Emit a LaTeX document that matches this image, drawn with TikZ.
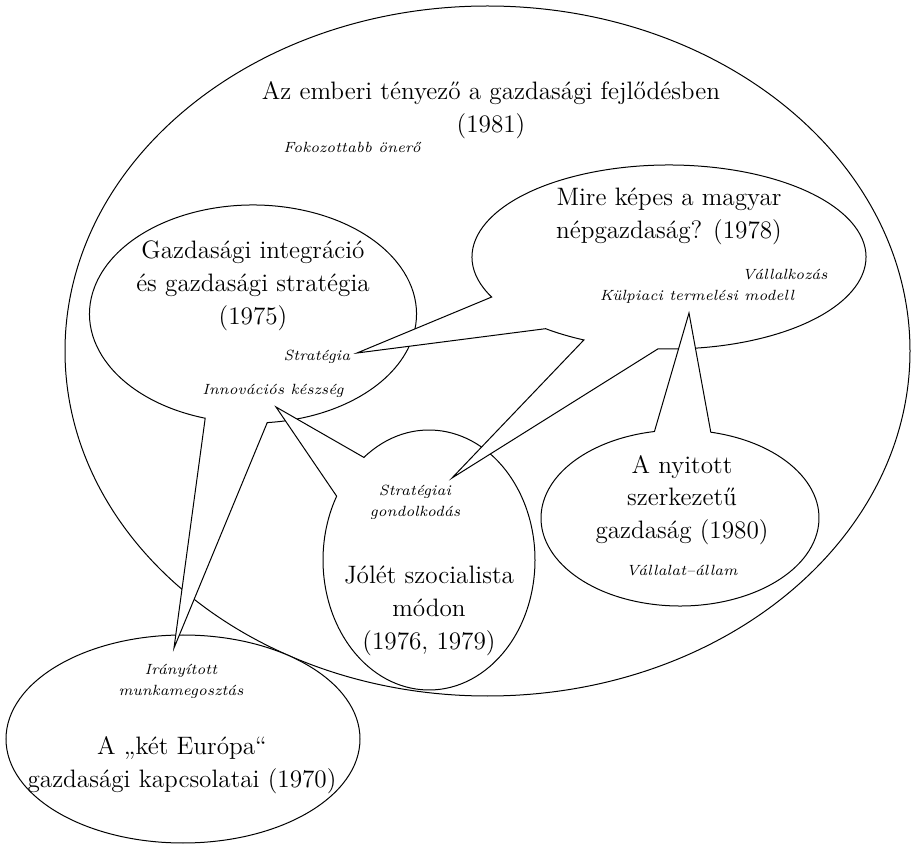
\documentclass[tikz,border=0pt]{standalone}
\usepackage{fontspec}
\usetikzlibrary{calc}
\begin{document}
\begin{tikzpicture}[x=0.5pt,y=-0.5pt]
    \tikzset{bubble/.style = {draw, fill=white, line width=0.5pt, line join=miter}}
    \tikzset{title/.style = {font=\fontsize{12.6}{16.4}\selectfont, align=center, inner sep=0pt}}
    \tikzset{keyword/.style = {font=\fontsize{7.4}{10.5}\selectfont\itshape, align=center, inner sep=0pt}}

    \useasboundingbox (0,0) rectangle (911,844);

    % centres of the bubbles
    \coordinate (outerc) at (487.5,351);
    \coordinate (eurc)   at (183,739);
    \coordinate (gazdc)  at (253,314);
    \coordinate (joletc) at (429,560);
    \coordinate (mirec)  at (669,257);
    \coordinate (nyitc)  at (680,518);

    % pointer tips
    \coordinate (tipiranyitott) at (174,648);
    \coordinate (tipinnov)      at (276,407);
    \coordinate (tipstrategia)  at (357,353);
    \coordinate (tipstratgond)  at (452,478);
    \coordinate (tipkulpiac)    at (689,313);

    % bubbles
    \draw[bubble] (outerc) ellipse [x radius=422.5, y radius=345];
    \draw[bubble] (eurc) ellipse [x radius=177, y radius=104];
    \draw[bubble] (gazdc) ++(107:163.5 and 109)
        arc [start angle=107, end angle=445, x radius=163.5, y radius=109]
        -- (tipiranyitott) -- cycle;
    \draw[bubble] (joletc) ++(232.1:106 and 130)
        arc [start angle=232.1, end angle=569.4, x radius=106, y radius=130]
        -- (tipinnov) -- cycle;
    \draw[bubble] (mirec) ++(154.2:197 and 92)
        arc [start angle=154.2, end angle=453.2, x radius=197, y radius=92]
        -- (tipstratgond) -- ($(mirec)+(115.6:197 and 92)$)
        arc [start angle=115.6, end angle=128.8, x radius=197, y radius=92]
        -- (tipstrategia) -- cycle;
    \draw[bubble] (nyitc) ++(282.8:139 and 88)
        arc [start angle=282.8, end angle=619.4, x radius=139, y radius=88]
        -- (tipkulpiac) -- cycle;

    % texts
    \node[title] (emberi) at (491,110) {Az emberi tényező a gazdasági fejlődésben\\(1981)};
    \node[keyword] (fokoz) at (352,147) {Fokozottabb önerő};
    \node[title] (mire) at (669,216) {Mire képes a magyar\\népgazdaság? (1978)};
    \node[keyword] (vallalkozas) at (785,275) {Vállalkozás};
    \node[keyword] (kulpiac) at (697,297) {Külpiaci termelési modell};
    \node[title] (gazdint) at (253,286) {Gazdasági integráció\\és gazdasági stratégia\\(1975)};
    \node[keyword] (strategia) at (317,357) {Stratégia};
    \node[keyword] (innov) at (273,391) {Innovációs készség};
    \node[keyword] (stratgond) at (415,502) {Stratégiai\\gondolkodás};
    \node[title] (jolet) at (429,611) {Jólét szocialista\\módon\\(1976, 1979)};
    \node[title] (nyitott) at (682,500) {A nyitott\\szerkezetű\\gazdaság (1980)};
    \node[keyword] (vallalat) at (682,570) {Vállalat–állam};
    \node[keyword] (iranyitott) at (181,681) {Irányított\\munkamegosztás};
    \node[title] (keteur) at (182,765) {A „két Európa“\\gazdasági kapcsolatai (1970)};
\end{tikzpicture}
\end{document}
